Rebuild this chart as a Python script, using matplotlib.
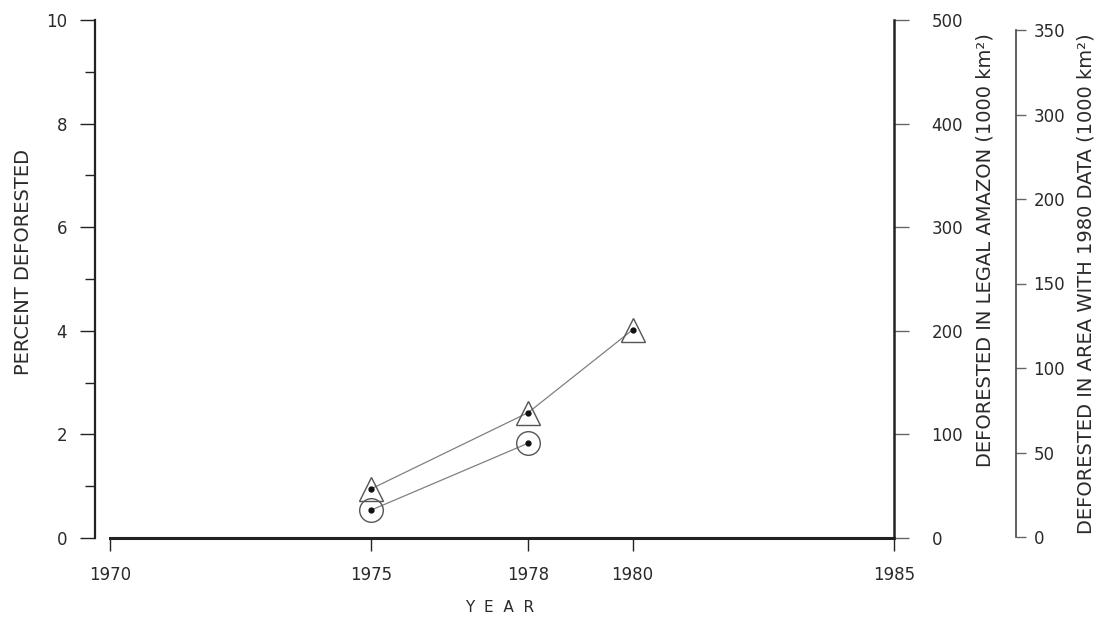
import matplotlib
matplotlib.use("Agg")
import matplotlib.pyplot as plt
from matplotlib.ticker import MultipleLocator

# ---- data ----
years_tri = [1975, 1978, 1980]
pct_tri = [0.95, 2.42, 4.02]
years_circ = [1975, 1978]
pct_circ = [0.54, 1.83]

xticks = [1970, 1975, 1978, 1980, 1985]
left_ticks = [0, 2, 4, 6, 8, 10]
right1_ticks = [0, 100, 200, 300, 400, 500]
right2_labels = ["0", "50", "100", "150", "200", "300", "350"]

W, H = 1101, 633
fig = plt.figure(figsize=(W / 100, H / 100), dpi=100)
fig.patch.set_facecolor("white")
txt = "#2a2a2a"
axc = "#222222"
plt.rcParams['font.family'] = ['DejaVu Sans']

def fx(px):
    return px / W

def fy(py):
    return 1 - py / H

# main axes: left spine x=95, right spine x=894, y from 20 (top) to 538 (bottom)
x0, x1, ytop, ybot = 95, 894, 20, 538
ax = fig.add_axes([fx(x0), fy(ybot), fx(x1 - x0), (ybot - ytop) / H])
px_per_year = (894 - 110) / 15.0
ax.set_xlim(1970 - (110 - 95) / px_per_year, 1985)
ax.set_ylim(0, 10)
ax.patch.set_alpha(0)
for s in ["top", "right"]:
    ax.spines[s].set_visible(False)
ax.spines["left"].set_bounds(0, 10)
ax.spines["bottom"].set_bounds(1970, 1985)
ax.spines["left"].set_color(axc)
ax.spines["bottom"].set_color(axc)
ax.spines["left"].set_linewidth(1.6)
ax.spines["bottom"].set_linewidth(2.2)

ax.set_xticks(xticks)
ax.set_xticklabels([str(v) for v in xticks], fontsize=12, color=txt)
ax.set_yticks(left_ticks)
ax.set_yticklabels([str(v) for v in left_ticks], fontsize=12, color=txt)
ax.yaxis.set_minor_locator(MultipleLocator(1))
ax.tick_params(axis="y", which="major", direction="out", length=11, width=1, color=axc, pad=9)
ax.tick_params(axis="y", which="minor", direction="out", length=7, width=1, color=axc)
ax.tick_params(axis="x", which="major", direction="out", length=9, width=1, color=axc, pad=11)

# data
ax.plot(years_tri, pct_tri, color="#808080", lw=0.9, zorder=2, clip_on=False)
ax.plot(years_circ, pct_circ, color="#808080", lw=0.9, zorder=2, clip_on=False)
ax.plot(years_tri, pct_tri, linestyle="none", marker="^", markersize=17,
        markerfacecolor="none", markeredgecolor="#555555", markeredgewidth=1.0, zorder=3, clip_on=False)
ax.plot(years_circ, pct_circ, linestyle="none", marker="o", markersize=17,
        markerfacecolor="none", markeredgecolor="#555555", markeredgewidth=1.0, zorder=3, clip_on=False)
ax.plot(years_tri + years_circ, pct_tri + pct_circ, linestyle="none", marker="o",
        markersize=3.5, color="#111111", zorder=4, clip_on=False)

# right axis 1 (legal Amazon)
ax2 = ax.twinx()
ax2.set_ylim(0, 500)
ax2.patch.set_alpha(0)
for s in ["top", "left", "bottom"]:
    ax2.spines[s].set_visible(False)
ax2.spines["right"].set_color(axc)
ax2.spines["right"].set_linewidth(1.8)
ax2.spines["right"].set_bounds(0, 500)
ax2.set_yticks(right1_ticks)
ax2.set_yticklabels([str(v) for v in right1_ticks], fontsize=12, color=txt)
ax2.tick_params(axis="y", direction="out", length=11, width=1, color="#666666", pad=16)

# right axis 2 (area with 1980 data)
ytop3, ybot3 = 30, 537
ax3 = fig.add_axes([fx(1015), fy(ybot3), 0.0005, (ybot3 - ytop3) / H])
ax3.set_ylim(0, len(right2_labels) - 1)
ax3.patch.set_alpha(0)
ax3.xaxis.set_visible(False)
for s in ["top", "left", "bottom"]:
    ax3.spines[s].set_visible(False)
ax3.spines["right"].set_color("#444444")
ax3.spines["right"].set_linewidth(1.2)
ax3.yaxis.tick_right()
ax3.set_yticks(range(len(right2_labels)))
ax3.set_yticklabels(right2_labels, fontsize=12, color=txt)
ax3.tick_params(axis="y", direction="out", length=7, width=1, color="#666666", pad=6)

# labels
fig.text(fx(24), fy(262), "PERCENT DEFORESTED", rotation=90, ha="center", va="center",
         fontsize=14, color=txt)
fig.text(fx(500), fy(607), "Y  E  A  R", ha="center", va="center", fontsize=11, color=txt)
fig.text(fx(985), fy(250), "DEFORESTED IN LEGAL AMAZON (1000 km²)", rotation=90,
         ha="center", va="center", fontsize=14, color=txt)
fig.text(fx(1086), fy(284), "DEFORESTED IN AREA WITH 1980 DATA (1000 km²)", rotation=90,
         ha="center", va="center", fontsize=14, color=txt)

fig.savefig("out.png", dpi=100, facecolor="white")
